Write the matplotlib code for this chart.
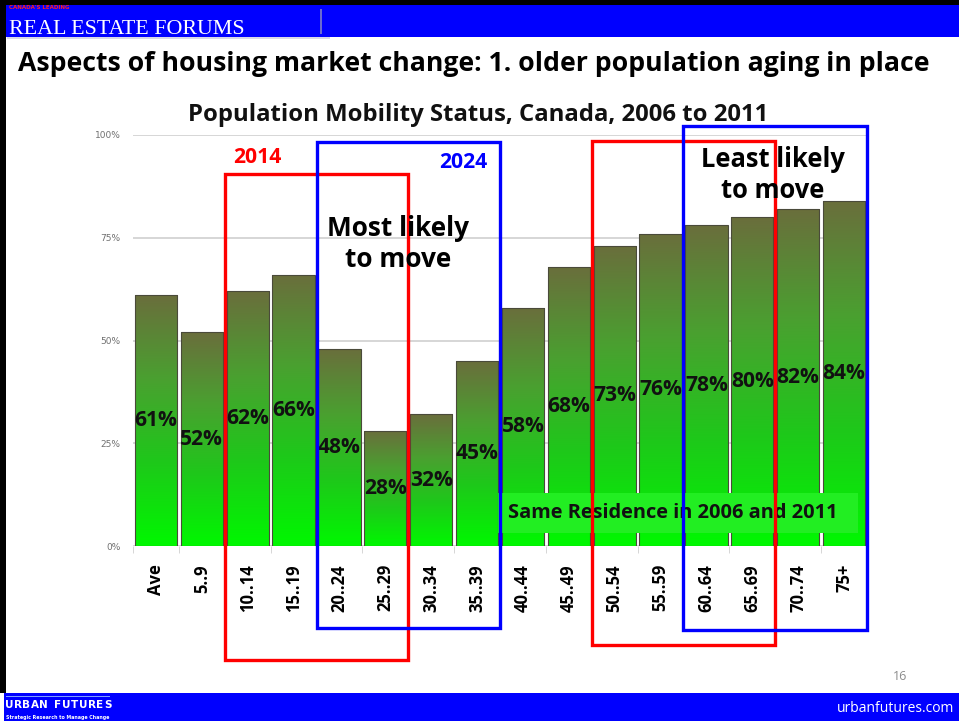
import numpy as np
import matplotlib.pyplot as plt
from matplotlib.patches import Rectangle
from matplotlib.colors import LinearSegmentedColormap

groups = ['Ave', '5..9', '10..14', '15..19', '20..24', '25..29', '30..34', '35..39',
          '40..44', '45..49', '50..54', '55..59', '60..64', '65..69', '70..74', '75+']
same_res = [61, 52, 62, 66, 48, 28, 32, 45, 58, 68, 73, 76, 78, 80, 82, 84]
yticks = [0, 25, 50, 75, 100]

# cohort boxes: (first group, last group, bottom %, top %, colour)
cohorts = [(2, 5, -27.7, 90.5, '#ff0000'),
           (4, 7, -20.0, 98.3, '#0000ff'),
           (10, 13, -24.1, 98.5, '#ff0000'),
           (12, 15, -20.4, 102.2, '#0000ff')]

W, H = 959, 721
fig = plt.figure(figsize=(W / 100, H / 100), dpi=100)
fig.patch.set_facecolor('white')
FONT = 'Open Sans'
renderer = fig.canvas.get_renderer()


def fx(x):
    return x / W


def fy(y):
    return 1 - y / H


def fit(t, width_px):
    # scale a text's font size so it spans width_px pixels
    w = t.get_window_extent(renderer).width
    t.set_fontsize(t.get_fontsize() * width_px / w)
    return t


def frect(x0, y0, x1, y1, color, **kw):
    fig.patches.append(Rectangle((fx(x0), fy(y1)), fx(x1) - fx(x0), fy(y0) - fy(y1),
                                 transform=fig.transFigure, color=color, lw=0, **kw))


# slide frame and banners
frect(0, 0, W, 5, 'black')
frect(0, 0, 6, 693, 'black')
frect(6, 5, W, 37, '#0000ff')
frect(320, 9, 322, 34, '#6a6ad0')
frect(7, 37, 330, 39, '#d8d8e8')
frect(4, 693, W, H, '#0000ff')
frect(6, 696, 110, 697, '#7f9fff')

fig.text(fx(9), fy(7.5), "CANADA'S LEADING", color='#ff2020', fontsize=4, fontweight='bold',
         va='center', family='DejaVu Sans')
fit(fig.text(fx(9), fy(34), 'REAL ESTATE FORUMS', color='white', fontsize=17,
             family='Liberation Serif', va='baseline'), 236)
for i, ch in enumerate('URBANFUTURES'):
    xc = 9.5 + i * 8.45 + (6 if i >= 5 else 0)
    fig.text(fx(xc), fy(705.5), ch, color='white', fontsize=7.5, fontweight='bold',
             ha='center', va='center', family='DejaVu Sans')
fit(fig.text(fx(6), fy(717), 'Strategic Research to Manage Change', color='white', fontsize=4,
             fontweight='bold', va='center', family='DejaVu Sans'), 102)
fig.text(fx(954), fy(709), 'urbanfutures.com', color='white', fontsize=10, ha='right',
         va='center', family='Open Sans')
fig.text(fx(900), fy(676), '16', color='#8c8c8c', fontsize=9, ha='center', va='center',
         family='Open Sans')

fit(fig.text(fx(18), fy(64), 'Aspects of housing market change: 1. older population aging in place',
             fontsize=18, fontweight='bold', family=FONT, va='center'), 910)
fit(fig.text(fx(478), fy(115), 'Population Mobility Status, Canada, 2006 to 2011',
             fontsize=15, fontweight='bold', family=FONT, va='center', ha='center',
             color='#111111'), 580)

ax = fig.add_axes([fx(133), fy(546), fx(867) - fx(133), fy(135) - fy(546)])
ax.set_facecolor('white')
x = np.arange(len(groups))
bars = ax.bar(x, same_res, width=0.92, color='none', edgecolor='#4a4a3a', lw=0.8, zorder=3)

cmap = LinearSegmentedColormap.from_list('grn', ['#00f800', '#1ec81a', '#4aa030', '#6a6e3c'])
grad = np.linspace(0, 1, 256).reshape(-1, 1)
for b in bars:
    im = ax.imshow(grad, extent=(b.get_x(), b.get_x() + b.get_width(), 0, b.get_height()),
                   origin='lower', cmap=cmap, aspect='auto', zorder=2)
    im.set_clip_path(b)

for xi, v in zip(x, same_res):
    fit(ax.text(xi, v / 2, f'{v}%', ha='center', va='center', fontsize=14, fontweight='bold',
                family=FONT, color='#111111', zorder=5), 43)

ax.set_xlim(-0.5, len(groups) - 0.5)
ax.set_ylim(0, 100)
ax.set_yticks(yticks)
ax.set_yticklabels([f'{t}%' for t in yticks], fontsize=6.5, color='#707070', family='DejaVu Sans')
ax.yaxis.grid(True, color='#cfcfcf', lw=1.2, zorder=0)
ax.set_axisbelow(True)
ax.tick_params(axis='y', length=0, pad=9)
ax.set_xticks(x)
ax.set_xticklabels(groups, rotation=90, fontsize=12, fontweight='bold', family=FONT)
ax.set_xticks(np.arange(-0.5, len(groups)), minor=True)
ax.tick_params(axis='x', which='major', length=0, pad=13)
ax.tick_params(axis='x', which='minor', length=5, color='#d0d0d0')
for s in ax.spines.values():
    s.set_visible(False)

# green legend box
ax.add_patch(Rectangle((0.497, 0.032), 0.491, 0.097, transform=ax.transAxes,
                       color='#22ee22', lw=0, zorder=6))
fit(ax.text(0.736, 0.080, 'Same Residence in 2006 and 2011', transform=ax.transAxes,
            ha='center', va='center', fontsize=13, fontweight='bold', family=FONT, zorder=7,
            color='#111111'), 329)

for g0, g1, y0, y1, c in cohorts:
    ax.add_patch(Rectangle((g0 - 0.5, y0), g1 - g0 + 1, y1 - y0, fill=False, edgecolor=c,
                           lw=2.4, clip_on=False, zorder=8))

fit(ax.text(2.22, 94.6, '2014', color='#ff0000', fontsize=13, fontweight='bold', family=FONT,
            ha='center', va='center'), 48)
fit(ax.text(6.69, 93.4, '2024', color='#0000ff', fontsize=13, fontweight='bold', family=FONT,
            ha='center', va='center'), 48)
fit(ax.text(5.28, 73.5, 'Most likely\nto move', fontsize=19, fontweight='bold', family=FONT,
            ha='center', va='center', linespacing=1.2, zorder=9), 142)
fit(ax.text(13.45, 90.3, 'Least likely\nto move', fontsize=19, fontweight='bold', family=FONT,
            ha='center', va='center', linespacing=1.2, zorder=9), 143)

fig.savefig('out.png', dpi=100)
